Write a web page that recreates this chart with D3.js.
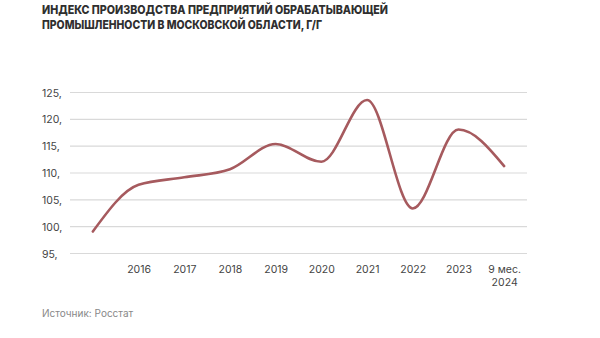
<!DOCTYPE html>
<html><head><meta charset="utf-8">
<script src="https://cdn.jsdelivr.net/npm/d3@7"></script>
<style>
html,body{margin:0;padding:0;background:#fff;}
svg{display:block;}
</style></head>
<body>
<svg id="chart" width="600" height="338"></svg>
<script>
const categories = ["2015", "2016", "2017", "2018", "2019", "2020", "2021", "2022", "2023", "9 мес. 2024"];
const tickLabels = ["", "2016", "2017", "2018", "2019", "2020", "2021", "2022", "2023", "9 мес.|2024"];
const values = [99.0, 107.7, 109.1, 110.6, 115.3, 112.0, 123.5, 103.3, 118.0, 111.2];
const yTicks = [95, 100, 105, 110, 115, 120, 125];
const titleLines = ["ИНДЕКС ПРОИЗВОДСТВА ПРЕДПРИЯТИЙ ОБРАБАТЫВАЮЩЕЙ", "ПРОМЫШЛЕННОСТИ В МОСКОВСКОЙ ОБЛАСТИ, Г/Г"];
const source = "Источник: Росстат";

const svg = d3.select("#chart");
const font = "Inter, 'Noto Sans', sans-serif";

const x = d3.scalePoint().domain(categories).range([70, 527]).padding(0.5);
const y = d3.scaleLinear().domain([95, 125]).range([253, 92]);

// title
svg.append("g").selectAll("text").data(titleLines).join("text")
  .attr("x", 42).attr("y", (d, i) => 13.5 + i * 15.5)
  .attr("font-family", font).attr("font-weight", 800).attr("font-size", 11.8)
  .attr("fill", "#2f2f2f")
  .attr("textLength", (d, i) => i === 0 ? 346 : 280).attr("lengthAdjust", "spacingAndGlyphs")
  .text(d => d);

// grid
const grid = svg.append("g").attr("transform", "translate(70,0)")
  .call(d3.axisLeft(y).tickValues(yTicks).tickSize(-457).tickFormat(""));
grid.select(".domain").remove();
grid.selectAll(".tick line").attr("stroke", "#d9d9d9").attr("stroke-width", 1.2);

// y labels
svg.append("g").selectAll("text").data(yTicks).join("text")
  .attr("x", 42).attr("y", d => y(d) + 4.5)
  .attr("font-family", font).attr("font-size", 10.5).attr("fill", "#444")
  .text(d => d + ",");

// x axis
const xa = svg.append("g").attr("transform", "translate(0,253)")
  .call(d3.axisBottom(x).tickSize(0).tickFormat((d, i) => tickLabels[i]));
xa.select(".domain").remove();
xa.selectAll(".tick text").each(function(d, i) {
  const t = d3.select(this);
  const parts = tickLabels[i].split("|");
  t.text(null).attr("font-family", font).attr("font-size", 10.5).attr("fill", "#444")
   .attr("y", 0).attr("dy", null);
  parts.forEach((p, j) => {
    t.append("tspan").attr("x", 0).attr("y", 19.5 + j * 13.5).text(p);
  });
});

// line
const line = d3.line().x((d, i) => x(categories[i])).y(d => y(d)).curve(d3.curveMonotoneX);
svg.append("path").datum(values)
  .attr("d", line).attr("fill", "none")
  .attr("stroke", "#a65a5e").attr("stroke-width", 2.6).attr("stroke-linecap", "round");

// source
svg.append("text").attr("x", 42).attr("y", 317)
  .attr("font-family", font).attr("font-size", 10).attr("fill", "#888")
  .text(source);
</script>
</body></html>
